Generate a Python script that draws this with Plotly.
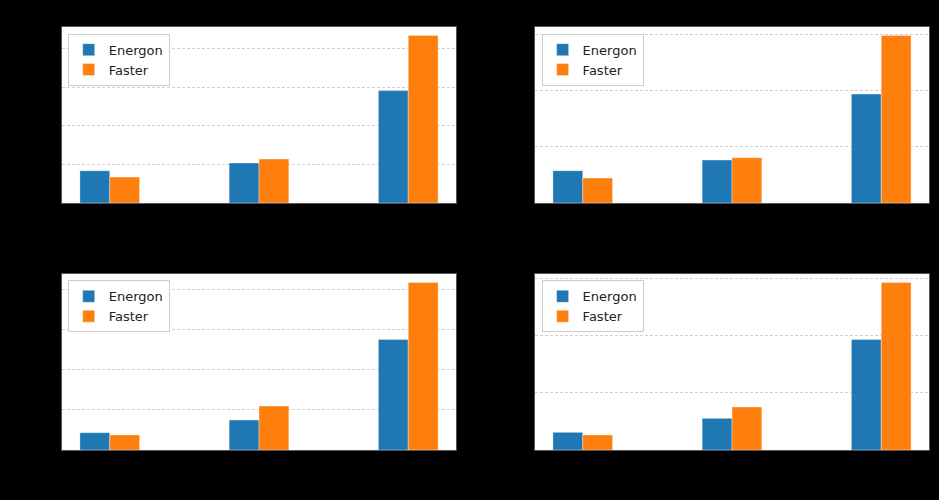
import plotly.graph_objects as go
from plotly.subplots import make_subplots

# group positions (tick labels are black on black in the reference)
groups = [0, 1, 2]

# panel values (units = one grid step)
energon_1 = [0.835, 1.034, 2.91]
faster_1 = [0.672, 1.137, 4.34]

energon_2 = [0.574, 0.764, 1.936]
faster_2 = [0.444, 0.805, 2.98]

energon_3 = [0.43, 0.746, 2.75]
faster_3 = [0.373, 1.094, 4.17]

energon_4 = [0.31, 0.556, 1.94]
faster_4 = [0.263, 0.754, 2.94]

panels = [(energon_1, faster_1), (energon_2, faster_2),
          (energon_3, faster_3), (energon_4, faster_4)]

BLUE = '#1f77b4'
ORANGE = '#ff7f0e'

fig = make_subplots(rows=2, cols=2)

legend_pos = [(0.0721, 0.9326), (0.5768, 0.9326), (0.0721, 0.4393), (0.5768, 0.4393)]

for i, (en, fa) in enumerate(panels):
    r, c = i // 2 + 1, i % 2 + 1
    leg = 'legend' if i == 0 else 'legend%d' % (i + 1)
    fig.add_trace(go.Bar(x=groups, y=en, name='Energon', marker_color=BLUE,
                         marker_line=dict(color='rgba(255,255,255,0.6)', width=0.6),
                         legend=leg), row=r, col=c)
    fig.add_trace(go.Bar(x=groups, y=fa, name='Faster', marker_color=ORANGE,
                         marker_line=dict(color='rgba(255,255,255,0.6)', width=0.6),
                         legend=leg), row=r, col=c)
    top = max(en + fa) * 1.05
    fig.update_yaxes(range=[0, top], dtick=1, row=r, col=c)

x_domains = [[62 / 939, 456 / 939], [535 / 939, 929 / 939]]
y_domains = [[1 - 203 / 500, 1 - 27 / 500], [1 - 450 / 500, 1 - 274 / 500]]
for i in range(4):
    r, c = i // 2 + 1, i % 2 + 1
    fig.update_xaxes(domain=x_domains[c - 1], row=r, col=c)
    fig.update_yaxes(domain=y_domains[r - 1], row=r, col=c)

fig.update_xaxes(range=[-0.32, 2.32], tickvals=groups, showgrid=False, zeroline=False,
                 showline=True, linecolor='#555', linewidth=1, mirror=True, automargin=False,
                 ticks='outside', tickcolor='black', tickfont=dict(color='black', size=11))
fig.update_yaxes(showgrid=True, gridcolor='#d0d0d0', griddash='3px,2px', gridwidth=1,
                 zeroline=False, showline=True, linecolor='#555', linewidth=1, mirror=True,
                 automargin=False,
                 ticks='outside', tickcolor='black', tickfont=dict(color='black', size=11))

legend_style = dict(bgcolor='white', bordercolor='#cccccc', borderwidth=1,
                    font=dict(family='DejaVu Sans', size=13, color='#222222'),
                    xanchor='left', yanchor='top', tracegroupgap=0)
layout_legends = {}
for i, (lx, ly) in enumerate(legend_pos):
    key = 'legend' if i == 0 else 'legend%d' % (i + 1)
    layout_legends[key] = dict(x=lx, y=ly, **legend_style)

fig.update_layout(
    width=939, height=500,
    paper_bgcolor='black', plot_bgcolor='white',
    margin=dict(l=0, r=0, t=0, b=0),
    barmode='group', bargap=0.6, bargroupgap=0,
    font=dict(family='DejaVu Sans'),
    showlegend=True,
    **layout_legends
)

# drop the page's default body margin so the figure fills the window
fig.write_html("out.html",
               config={'responsive': False, 'displayModeBar': False},
               post_script="document.body.style.margin='0';document.body.style.overflow='hidden';")
